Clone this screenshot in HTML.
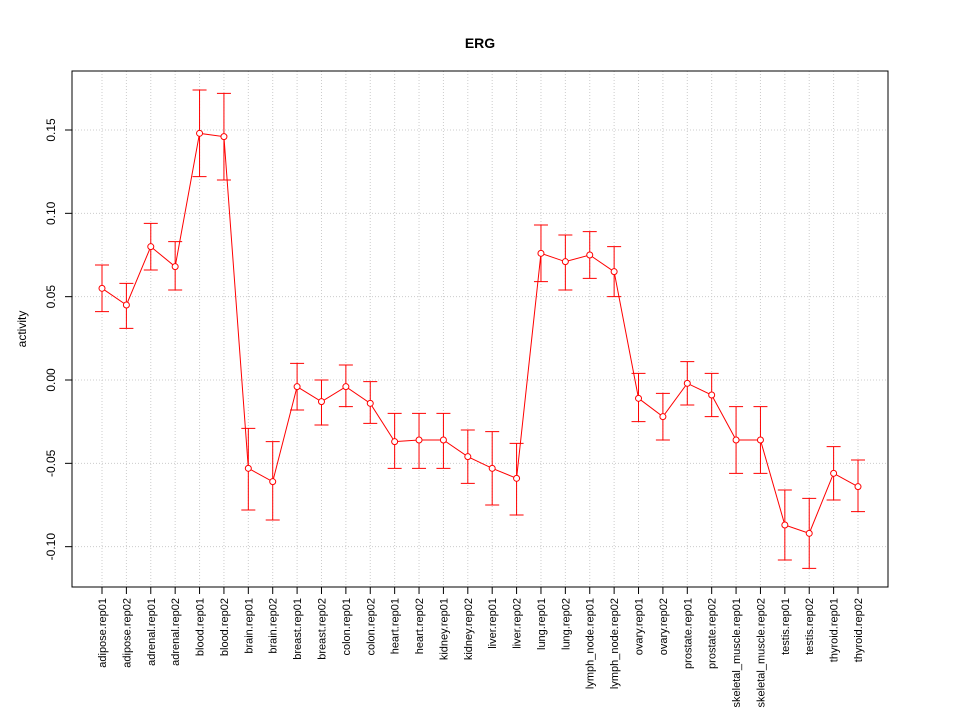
<!DOCTYPE html>
<html><head><meta charset="utf-8"><style>
body{margin:0;background:#fff;}
svg text{font-family:"Liberation Sans",Arial,sans-serif;}
</style></head><body>
<svg id="chart" width="960" height="720">
<text x="480" y="48" text-anchor="middle" font-weight="bold" font-size="14">ERG</text>
<text transform="translate(26,329) rotate(-90)" text-anchor="middle" font-size="12">activity</text>
<g id="grid"></g>
<g id="series"></g>
<g id="axes"></g>
<rect x="72" y="71" width="816" height="516" fill="none" stroke="#000"/>
</svg>
<script>
const categories=["adipose.rep01","adipose.rep02","adrenal.rep01","adrenal.rep02","blood.rep01","blood.rep02","brain.rep01","brain.rep02","breast.rep01","breast.rep02","colon.rep01","colon.rep02","heart.rep01","heart.rep02","kidney.rep01","kidney.rep02","liver.rep01","liver.rep02","lung.rep01","lung.rep02","lymph_node.rep01","lymph_node.rep02","ovary.rep01","ovary.rep02","prostate.rep01","prostate.rep02","skeletal_muscle.rep01","skeletal_muscle.rep02","testis.rep01","testis.rep02","thyroid.rep01","thyroid.rep02"];
const values=[0.055,0.045,0.080,0.068,0.148,0.146,-0.053,-0.061,-0.004,-0.013,-0.004,-0.014,-0.037,-0.036,-0.036,-0.046,-0.053,-0.059,0.076,0.071,0.075,0.065,-0.011,-0.022,-0.002,-0.009,-0.036,-0.036,-0.087,-0.092,-0.056,-0.064];
const upper=[0.069,0.058,0.094,0.083,0.174,0.172,-0.029,-0.037,0.010,0.000,0.009,-0.001,-0.020,-0.020,-0.020,-0.030,-0.031,-0.038,0.093,0.087,0.089,0.080,0.004,-0.008,0.011,0.004,-0.016,-0.016,-0.066,-0.071,-0.040,-0.048];
const lower=[0.041,0.031,0.066,0.054,0.122,0.120,-0.078,-0.084,-0.018,-0.027,-0.016,-0.026,-0.053,-0.053,-0.053,-0.062,-0.075,-0.081,0.059,0.054,0.061,0.050,-0.025,-0.036,-0.015,-0.022,-0.056,-0.056,-0.108,-0.113,-0.072,-0.079];
const yTicks=[-0.10,-0.05,0.00,0.05,0.10,0.15];
const yTickLabels=["-0.10","-0.05","0.00","0.05","0.10","0.15"];
const NS="http://www.w3.org/2000/svg";
const x=i=>102+i*(756/(categories.length-1));
const y=v=>380-v*1666.7;
function mk(tag,attrs,parent){const e=document.createElementNS(NS,tag);for(const k in attrs)e.setAttribute(k,attrs[k]);parent.appendChild(e);return e;}
const grid=document.getElementById('grid'),ser=document.getElementById('series'),axes=document.getElementById('axes');
categories.forEach((c,i)=>{
 const g=mk('line',{x1:x(i),x2:x(i),y1:71,y2:587,stroke:'#ccc','stroke-dasharray':'1,2'},grid);
 
 
 const t=mk('line',{x1:x(i),x2:x(i),y1:587,y2:594,stroke:'#000'},axes);
 
 
 const l=mk('text',{transform:`translate(${x(i)+4},598) rotate(-90)`,'text-anchor':'end','font-size':'11'},axes);
 l.textContent=c;
 
 
});
mk('line',{x1:x(0),x2:x(categories.length-1),y1:587,y2:587,stroke:'#000'},axes);
yTicks.forEach((v,i)=>{
 const g=mk('line',{x1:72,x2:888,y1:y(v),y2:y(v),stroke:'#ccc','stroke-dasharray':'1,2'},grid);
 
 
 const t=mk('line',{x1:65,x2:72,y1:y(v),y2:y(v),stroke:'#000'},axes);
 
 
 const l=mk('text',{transform:`translate(55,${y(v)}) rotate(-90)`,'text-anchor':'middle','font-size':'12'},axes);
 l.textContent=yTickLabels[i];
 
 
});
mk('line',{x1:72,x2:72,y1:y(yTicks[0]),y2:y(yTicks[yTicks.length-1]),stroke:'#000'},axes);
const pts=values.map((v,i)=>x(i)+','+y(v)).join(' ');
const pl=mk('polyline',{points:pts,fill:'none',stroke:'#f00'},ser);


values.forEach((v,i)=>{
 const cx=x(i);
 const eb=mk('path',{d:`M${cx},${y(upper[i])}V${y(lower[i])}M${cx-7},${y(upper[i])}H${cx+7}M${cx-7},${y(lower[i])}H${cx+7}`,stroke:'#f00',fill:'none'},ser);
 
 
 const p=mk('circle',{cx:cx,cy:y(v),r:3,fill:'#fff',stroke:'#f00'},ser);
 
 
});
</script>
</body></html>
